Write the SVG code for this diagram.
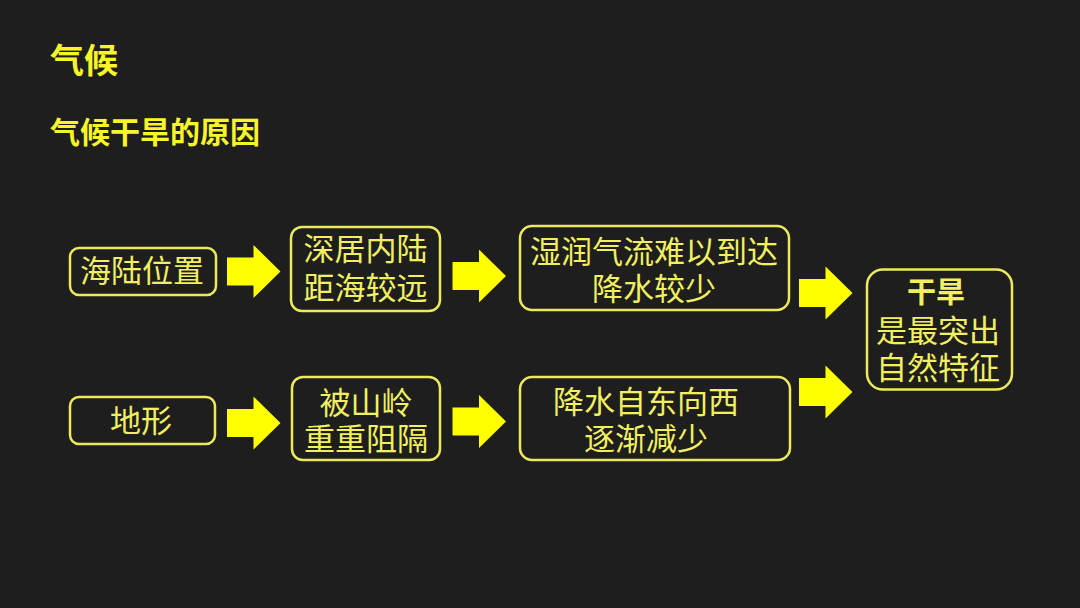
<svg xmlns="http://www.w3.org/2000/svg" xmlns:xlink="http://www.w3.org/1999/xlink" width="1080" height="608" viewBox="0 0 1080 608">
<style>
.bg{fill:#1e1e1e}
.title{font-family:"Noto Sans CJK SC","Noto Sans",sans-serif;font-weight:700;fill:#f8f528}
.box{fill:none;stroke:#ecea5c;stroke-width:2.5}
.t{font-family:"Noto Sans CJK SC","Noto Sans",sans-serif;font-size:31px;font-weight:400;fill:#f2ef60;text-anchor:middle}
.b{font-weight:700;font-size:29px}
.arrow{fill:#ffff00}
</style>
<defs>
<path id="arr" d="M0,-14 H26.5 V-26.5 L53.5,0 L26.5,26.5 V14 H0 Z"/>
</defs>
<rect class="bg" x="0" y="0" width="1080" height="608"/>
<g id="titles">
<text class="title" x="50" y="73" font-size="34">气候</text>
<text class="title" x="50" y="143" font-size="30">气候干旱的原因</text>
</g>
<g id="connectors" class="arrow">
<use xlink:href="#arr" transform="translate(227,271.5)"/>
<use xlink:href="#arr" transform="translate(452.5,276)"/>
<use xlink:href="#arr" transform="translate(799,293)"/>
<use xlink:href="#arr" transform="translate(799,392)"/>
<use xlink:href="#arr" transform="translate(227,423)"/>
<use xlink:href="#arr" transform="translate(452.5,421.5)"/>
</g>
<g id="node-haelu">
<rect class="box" x="70" y="248" width="146" height="47" rx="9"/>
<text class="t" x="142" y="282">海陆位置</text>
</g>
<g id="node-shenju">
<rect class="box" x="291" y="227" width="149" height="84" rx="11"/>
<text class="t" x="365.5" y="260">深居内陆</text>
<text class="t" x="365.5" y="299">距海较远</text>
</g>
<g id="node-shirun">
<rect class="box" x="520" y="226" width="269" height="84" rx="12"/>
<text class="t" x="654" y="263">湿润气流难以到达</text>
<text class="t" x="654" y="300">降水较少</text>
</g>
<g id="node-ganhan">
<rect class="box" x="867" y="269.5" width="145" height="120" rx="16"/>
<text class="t b" x="936" y="303">干旱</text>
<text class="t" x="938" y="342">是最突出</text>
<text class="t" x="938" y="379">自然特征</text>
</g>
<g id="node-dixing">
<rect class="box" x="70" y="397" width="145" height="47" rx="9"/>
<text class="t" x="141" y="432">地形</text>
</g>
<g id="node-beishan">
<rect class="box" x="292" y="377" width="148" height="83" rx="11"/>
<text class="t" x="366" y="414">被山岭</text>
<text class="t" x="366" y="450">重重阻隔</text>
</g>
<g id="node-jiangshui">
<rect class="box" x="520" y="377" width="270" height="83" rx="12"/>
<text class="t" x="646" y="413">降水自东向西</text>
<text class="t" x="646" y="450">逐渐减少</text>
</g>
</svg>
